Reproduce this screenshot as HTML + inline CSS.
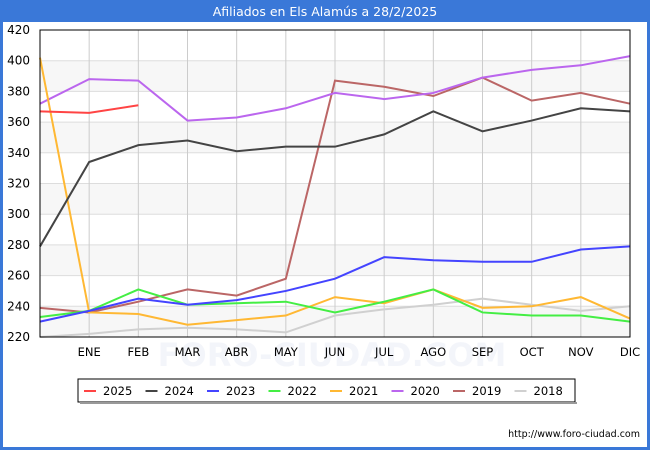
<!DOCTYPE html>
<html><head><meta charset="utf-8"><style>
body{margin:0;width:650px;height:450px;font-family:"DejaVu Sans","Liberation Sans",sans-serif;background:#fff;overflow:hidden}
</style></head><body>
<svg id="c" width="650" height="450" xmlns="http://www.w3.org/2000/svg">
<rect x="0" y="0" width="650" height="450" fill="#3a78d8"/>
<rect x="3" y="22" width="644" height="425" fill="#fff"/>
<text x="325" y="16" text-anchor="middle" fill="#fff" font-size="12.5">Afiliados en Els Alamús a 28/2/2025</text>
<g id="grid"></g>
<text x="332" y="366" text-anchor="middle" fill="#e6eaf5" font-size="32" font-weight="bold" opacity="0.45">FORO-CIUDAD.COM</text>
<g id="series"></g><g id="axes"></g>
<g id="legend"></g>
<text x="640" y="437" text-anchor="end" font-size="9.5" fill="#000">http://www.foro-ciudad.com</text>
</svg>
<script>
const months=["","ENE","FEB","MAR","ABR","MAY","JUN","JUL","AGO","SEP","OCT","NOV","DIC"];
const yTicks=[220,240,260,280,300,320,340,360,380,400,420];
const seriesNames=["2025","2024","2023","2022","2021","2020","2019","2018"];
const seriesColors=["#ff4444","#444444","#4444ff","#44ee44","#ffb833","#bb66ee","#bb6666","#d0d0d0"];
const s2025=[367,366,371];
const s2024=[279,334,345,348,341,344,344,352,367,354,361,369,367];
const s2023=[230,237,245,241,244,250,258,272,270,269,269,277,279];
const s2022=[233,237,251,241,242,243,236,243,251,236,234,234,230];
const s2021=[402,236,235,228,231,234,246,242,251,239,240,246,232];
const s2020=[372,388,387,361,363,369,379,375,379,389,394,397,403];
const s2019=[239,236,243,251,247,258,387,383,377,389,374,379,372];
const s2018=[220,222,225,226,225,223,234,238,241,245,241,237,240];
const allSeries=[s2025,s2024,s2023,s2022,s2021,s2020,s2019,s2018];
const X0=40,X1=630,Y0=30,Y1=337;
const xs=i=>X0+i*(X1-X0)/12;
const ys=v=>Y1-(v-220)*(Y1-Y0)/200;
const NS="http://www.w3.org/2000/svg";
function mk(t,a,p){const e=document.createElementNS(NS,t);for(const k in a)e.setAttribute(k,a[k]);p.appendChild(e);return e;}
const grid=document.getElementById('grid'),axes=document.getElementById('axes'),ser=document.getElementById('series'),leg=document.getElementById('legend');
for(let i=0;i<yTicks.length-1;i++){
 if(i%2==0){const r=mk('rect',{x:X0,y:ys(yTicks[i+1]),width:X1-X0,height:ys(yTicks[i])-ys(yTicks[i+1]),fill:'#f7f7f7'},grid);
 
 }
}
yTicks.forEach(v=>{
 const l=mk('line',{x1:X0,x2:X1,y1:ys(v),y2:ys(v),stroke:'#dddddd'},grid);
 
 
 const t=mk('text',{x:X0-10,y:ys(v)+4,'text-anchor':'end','font-size':'12',fill:'#000'},axes);
 t.textContent=v;
 
 
});
months.forEach((m,i)=>{
 if(i>0){const l=mk('line',{x1:xs(i),x2:xs(i),y1:Y0,y2:Y1,stroke:'#cccccc'},grid);
 
 
 const t=mk('text',{x:xs(i),y:Y1+19,'text-anchor':'middle','font-size':'11.5',fill:'#000'},axes);
 t.textContent=m;
 
 }
});
const ax=mk('rect',{x:X0,y:Y0,width:X1-X0,height:Y1-Y0,fill:'none',stroke:'#000','stroke-width':1},axes);


for(let k=allSeries.length-1;k>=0;k--){
 const d=allSeries[k].map((v,i)=>xs(i)+','+ys(v)).join(' ');
 const p=mk('polyline',{points:d,fill:'none',stroke:seriesColors[k],'stroke-width':2},ser);
 
 
}
const lb=mk('rect',{x:78,y:379,width:497,height:23,fill:'#fff',stroke:'#000'},leg);


mk('rect',{x:80,y:402,width:497,height:2,fill:'#999'},leg);
seriesNames.forEach((n,k)=>{
 const x=84+k*61.5;
 const l=mk('line',{x1:x,x2:x+12,y1:391,y2:391,stroke:seriesColors[k],'stroke-width':2},leg);
 
 
 const t=mk('text',{x:x+19,y:395,'font-size':'11.5',fill:'#000'},leg);
 t.textContent=n;
 
 
});
</script>
</body></html>
